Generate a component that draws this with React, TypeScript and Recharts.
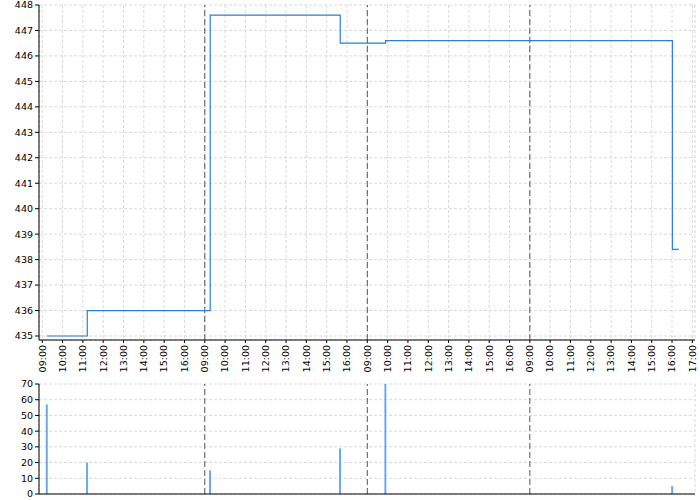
import React from 'react';
import {
  ComposedChart,
  Line,
  Bar,
  XAxis,
  YAxis,
  CartesianGrid,
  ReferenceLine,
} from 'recharts';

// Trades: "day hh:mm" in session time, price and volume
const tradeTimes = ['1 09:14', '1 11:13', '2 09:16', '2 15:40', '3 09:54', '4 16:01', '4 16:20'];
const prices = [435, 436, 447.6, 446.5, 446.6, 438.4, 438.4];
const volumes = [57, 20, 15, 29, 70, 5, 0];

// Session axis labels (each day runs 09:00-17:00, days are joined)
const hourLabels = ['09:00', '10:00', '11:00', '12:00', '13:00', '14:00', '15:00', '16:00'];
const dayCount = 4;
const closeLabel = '17:00';
const tickLabels = [...Array.from({ length: dayCount }, () => hourLabels).flat(), closeLabel];
const dayBreaks = [8, 16, 24];

const priceTicks = [435, 436, 437, 438, 439, 440, 441, 442, 443, 444, 445, 446, 447, 448];
const volumeTicks = [0, 10, 20, 30, 40, 50, 60, 70];

// convert "day hh:mm" to hours from the first session open
const toSession = (s: string) => {
  const [d, hm] = s.split(' ');
  const [h, m] = hm.split(':').map(Number);
  return (Number(d) - 1) * hourLabels.length + (h - 9) + m / 60;
};

const data = tradeTimes.map((t, i) => ({
  t: toSession(t),
  price: prices[i],
  volume: volumes[i],
}));

const tickPositions = tickLabels.map((_, i) => i);
const xDomain: [number, number] = [-0.16, 32.13];
const font = { fontFamily: 'DejaVu Sans', fontSize: 9.5, fill: '#000' };

const RotatedTick = (props: any) => {
  const { x, y, payload } = props;
  return (
    <g transform={`translate(${x},${y})`}>
      <text transform="rotate(-90)" textAnchor="end" dy="0.35em" {...font}>
        {tickLabels[payload.value]}
      </text>
    </g>
  );
};

export default function App() {
  return (
    <div style={{ position: 'absolute', left: 0, top: 0, width: 700, height: 500, background: '#fff' }}>
      <ComposedChart width={700} height={376} data={data} margin={{ top: 5, right: 5, left: 0, bottom: 0 }}>
        <CartesianGrid strokeDasharray="3 2" stroke="#d9d9d9" />
        <XAxis
          dataKey="t"
          type="number"
          domain={xDomain}
          allowDataOverflow
          ticks={tickPositions}
          interval={0}
          height={36}
          tickSize={3}
          tickMargin={2}
          tick={<RotatedTick />}
          axisLine={{ stroke: '#000' }}
          tickLine={{ stroke: '#000' }}
        />
        <YAxis
          domain={[435, 448]}
          ticks={priceTicks}
          interval={0}
          width={39}
          padding={{ top: 0, bottom: 4 }}
          tickSize={4}
          tickMargin={2}
          tick={font}
          axisLine={{ stroke: '#000' }}
          tickLine={{ stroke: '#000' }}
        />
        {dayBreaks.map((d) => (
          <ReferenceLine key={d} x={d} stroke="#555" strokeDasharray="6 3" />
        ))}
        <Line
          type="stepAfter"
          dataKey="price"
          stroke="#2b7fd6"
          strokeWidth={1.2}
          dot={false}
          isAnimationActive={false}
        />
      </ComposedChart>
      <ComposedChart width={700} height={124} data={data} margin={{ top: 8, right: 5, left: 0, bottom: 0 }}>
        <CartesianGrid strokeDasharray="3 2" stroke="#d9d9d9" />
        <XAxis
          dataKey="t"
          type="number"
          domain={xDomain}
          allowDataOverflow
          ticks={tickPositions}
          interval={0}
          height={6}
          tick={false}
          tickLine={false}
          axisLine={{ stroke: '#000' }}
        />
        <YAxis
          domain={[0, 70]}
          ticks={volumeTicks}
          interval={0}
          width={39}
          tickSize={4}
          tickMargin={2}
          tick={font}
          axisLine={{ stroke: '#000' }}
          tickLine={{ stroke: '#000' }}
        />
        {dayBreaks.map((d) => (
          <ReferenceLine key={d} x={d} stroke="#555" strokeDasharray="6 3" />
        ))}
        <Bar dataKey="volume" fill="#6ea8e6" barSize={2} isAnimationActive={false} />
      </ComposedChart>
    </div>
  );
}
